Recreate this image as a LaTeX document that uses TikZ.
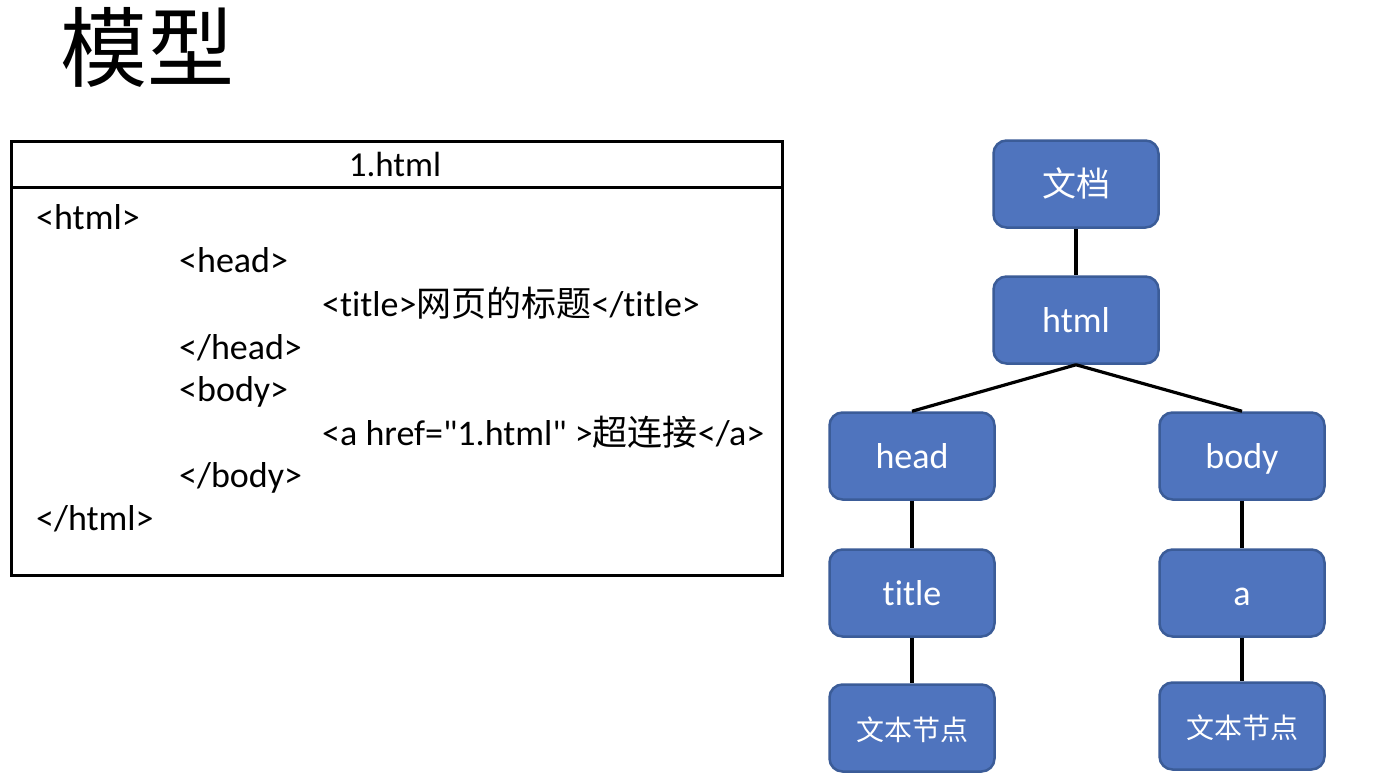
\documentclass[tikz,border=0pt]{standalone}
\usepackage{fontspec}
\setmainfont{Carlito}[Ligatures={NoCommon}]
\newfontfamily\cjk{Noto Sans CJK SC}
\definecolor{nodefill}{HTML}{4F74BE}
\definecolor{nodeedge}{HTML}{3B5C98}
\begin{document}
\begin{tikzpicture}[x=1pt,y=-1pt,
  treenode/.style={draw=nodeedge, line width=2.5pt, fill=nodefill, rounded corners=13pt,
    minimum width=165pt, minimum height=87pt, text=white, text height=28pt, text depth=4pt,
    font=\fontsize{36}{40}\selectfont},
  codeline/.style={anchor=west, inner sep=0pt, text height=26pt, text depth=8pt,
    font=\fontsize{36}{40}\selectfont},
  link/.style={line width=3.2pt, black}]
\useasboundingbox (0,0) rectangle (1379,782);
\fill[white] (0,0) rectangle (1379,782);
% title
\node[anchor=west, inner sep=0pt, font=\cjk\fontsize{87}{90}\selectfont] (ttl) at (60,47) {模型};
% code box
\draw[line width=3pt] (11,141) rectangle (782,575);
\draw[line width=3pt] (11,187) -- (782,187);
\node[inner sep=0pt, font=\fontsize{35}{40}\selectfont] (fname) at (395,164) {1.html};
\node[codeline] (l1) at (36,220) {<html>};
\node[codeline] (l2) at (179,263) {<head>};
\node[codeline] (l3) at (322,307) {<title>{\cjk\fontsize{35}{40}\selectfont 网页的标题}</title>};
\node[codeline] (l4) at (179,350) {</head>};
\node[codeline] (l5) at (179,392) {<body>};
\node[codeline] (l6) at (322,436) {<a href=\textquotedbl 1.html\textquotedbl{} >{\cjk\fontsize{35}{40}\selectfont 超连接}</a>};
\node[codeline] (l7) at (179,478) {</body>};
\node[codeline] (l8) at (36,521) {</html>};
% tree
\node[treenode, font=\cjk\fontsize{34}{38}\selectfont] (doc) at (1076,184) {文档};
\node[treenode] (html) at (1076,320) {html};
\node[treenode] (head) at (912,456) {head};
\node[treenode] (body) at (1242,456) {body};
\node[treenode] (title) at (912,593) {title};
\node[treenode] (a) at (1242,593) {a};
\node[treenode, font=\cjk\fontsize{28}{32}\selectfont] (t1) at (912,728) {文本节点};
\node[treenode, font=\cjk\fontsize{28}{32}\selectfont] (t2) at (1242,726) {文本节点};
\draw[link] (doc) -- (html);
\draw[link] (html.south) -- (head.north);
\draw[link] (html.south) -- (body.north);
\draw[link] (head) -- (title);
\draw[link] (body) -- (a);
\draw[link] (title) -- (t1);
\draw[link] (a) -- (t2);
\end{tikzpicture}
\end{document}
